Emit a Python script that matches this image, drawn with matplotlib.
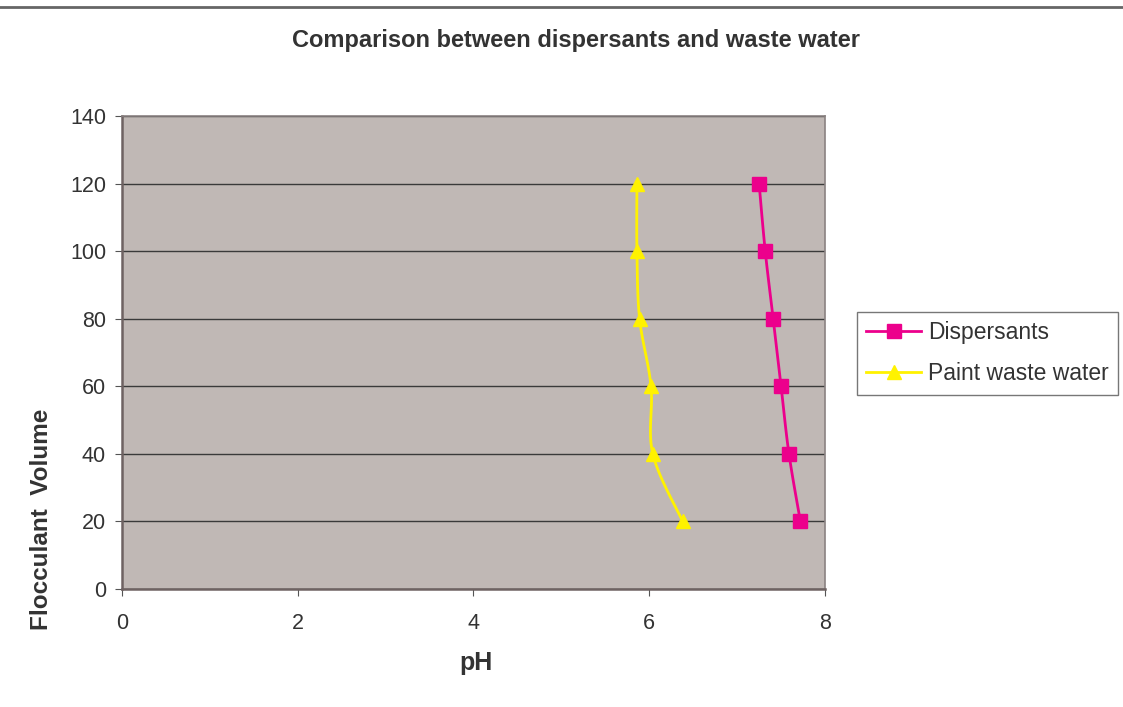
import numpy as np
import matplotlib
matplotlib.use("Agg")
import matplotlib.pyplot as plt
from matplotlib.lines import Line2D

plt.rcParams['font.family'] = ['Liberation Sans', 'DejaVu Sans']

# flocculant volume (y) against measured pH (x)
volume = [20, 40, 60, 80, 100, 120]
ph_dispersants = [7.72, 7.59, 7.50, 7.41, 7.32, 7.25]
ph_paint = [6.38, 6.04, 6.02, 5.89, 5.86, 5.86]

magenta = '#EC008C'
yellow = '#FFF200'
textcol = '#333333'


def smooth(xs, ys, n=20):
    # Catmull-Rom curve through the points, like a spreadsheet "smoothed line"
    p = np.column_stack([xs, ys]).astype(float)
    p = np.vstack([p[0], p, p[-1]])
    out = []
    t = np.linspace(0, 1, n)[:, None]
    for i in range(1, len(p) - 2):
        p0, p1, p2, p3 = p[i - 1], p[i], p[i + 1], p[i + 2]
        seg = 0.5 * ((2 * p1) + (-p0 + p2) * t + (2 * p0 - 5 * p1 + 4 * p2 - p3) * t ** 2
                     + (-p0 + 3 * p1 - 3 * p2 + p3) * t ** 3)
        out.append(seg)
    c = np.vstack(out)
    return c[:, 0], c[:, 1]


fig = plt.figure(figsize=(11.23, 7.07), dpi=100)
ax = fig.add_axes([122 / 1123, 1 - 589 / 707, (825 - 122) / 1123, (589 - 116) / 707])
ax.set_facecolor('#C0B8B5')

# y scale in display space is much larger than x, so smooth in pixel-ish units
def draw(xs, color, marker, ms):
    sx, sy = smooth(np.array(xs) * 88.0, np.array(volume) * 3.38)
    ax.plot(sx / 88.0, sy / 3.38, color=color, lw=2, zorder=3)
    ax.plot(xs, volume, ls='none', marker=marker, ms=ms, color=color, zorder=4)

draw(ph_dispersants, magenta, 's', 9.5)
draw(ph_paint, yellow, '^', 10.5)

ax.set_xlim(0, 8)
ax.set_ylim(0, 140)
ax.set_xticks([0, 2, 4, 6, 8])
ax.set_yticks(range(0, 141, 20))
ax.yaxis.grid(True, color='#3a3a3a', lw=1)
ax.set_axisbelow(True)

for s in ['left', 'bottom']:
    ax.spines[s].set_color('#6E6262')
    ax.spines[s].set_linewidth(1.8)
for s in ['top', 'right']:
    ax.spines[s].set_color('#8A8282')
    ax.spines[s].set_linewidth(1.2)

ax.tick_params(axis='both', direction='out', length=5, color='#555555',
               labelsize=15.5, labelcolor=textcol)
ax.tick_params(axis='y', pad=6.5)
ax.tick_params(axis='x', pad=12)

fig.text(576 / 1123, 1 - 40 / 707, 'Comparison between dispersants and waste water',
         ha='center', va='center', fontsize=17, fontweight='bold', color=textcol)
fig.text(476 / 1123, 1 - 663 / 707, 'pH', ha='center', va='center',
         fontsize=18, fontweight='bold', color=textcol)
fig.text(42 / 1123, 1 - 519 / 707, 'Flocculant  Volume', ha='center', va='center',
         rotation=90, fontsize=17.5, fontweight='bold', color=textcol)

# line across the top of the sheet
fig.add_artist(Line2D([0, 1], [1 - 7 / 707, 1 - 7 / 707], color='#666666', lw=2))

handles = [Line2D([], [], color=magenta, lw=2, marker='s', ms=9.5),
           Line2D([], [], color=yellow, lw=2, marker='^', ms=10.5)]
leg = fig.legend(handles, ['Dispersants', 'Paint waste water'],
                 loc='upper left', bbox_to_anchor=(857 / 1123, 1 - 312 / 707),
                 fontsize=16.5, frameon=True, fancybox=False, handlelength=2.4,
                 borderpad=0.4, labelspacing=0.8, handletextpad=0.3, borderaxespad=0)
leg.get_frame().set_edgecolor('#555555')
leg.get_frame().set_linewidth(1)
for t in leg.get_texts():
    t.set_color(textcol)

fig.savefig('out.png', dpi=100)
